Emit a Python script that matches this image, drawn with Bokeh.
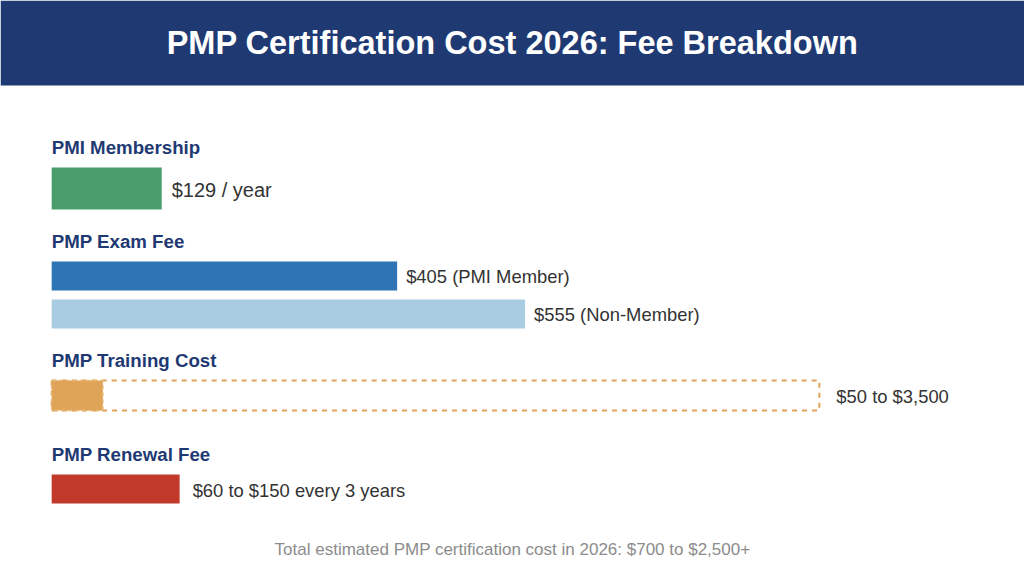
from bokeh.plotting import figure
from bokeh.models import Range1d
from bokeh.core.properties import value
from bokeh.embed import file_html
from bokeh.resources import INLINE

# ---- data ----
title = "PMP Certification Cost 2026: Fee Breakdown"
footer = "Total estimated PMP certification cost in 2026: $700 to $2,500+"

membership_fee = [129]
membership_label = ["$129 / year"]

exam_fees = [405, 555]
exam_labels = ["$405 (PMI Member)", "$555 (Non-Member)"]

training_low = 50
training_high = 3500
training_label = "$50 to $3,500"

renewal_low = 60
renewal_high = 150
renewal_label = "$60 to $150 every 3 years"

section_titles = ["PMI Membership", "PMP Exam Fee", "PMP Training Cost", "PMP Renewal Fee"]

# ---- display settings ----
X0, X1 = -60, 1140.5          # dollar view (0 at left bar edge)
TRAIN_CAP = 900                # dashed box drawn clipped to view
MIN_VIS = 60                   # minimum visible width of training fill

NAVY = "#1f3a73"
FONT = value("Liberation Sans")

p = figure(width=1024, height=576, x_range=Range1d(X0, X1), y_range=Range1d(576, 0),
           output_backend="svg", toolbar_location=None, min_border=0,
           background_fill_color="white", border_fill_color="white")
p.outline_line_color = None
p.axis.visible = False
p.grid.visible = False

# header band
p.quad(left=[X0], right=[X1], top=[0], bottom=[85], fill_color=NAVY, line_color=None)
p.text(x=[(X0 + X1) / 2], y=[42], text=[title], text_font=FONT, text_font_style="bold",
       text_font_size="32.5px", text_color="white", text_align="center", text_baseline="middle")

# section titles
sec_y = [147, 241, 360, 454]
p.text(x=[0] * 4, y=sec_y, text=section_titles, text_font=FONT, text_font_style="bold",
       text_font_size="18.7px", text_color=NAVY, text_align="left", text_baseline="middle")

val_style = dict(text_font=FONT, text_color="#333333",
                 text_align="left", text_baseline="middle")

# membership
p.hbar(y=[188], left=0, right=membership_fee, height=42, fill_color="#4a9e6e", line_color=None)
p.text(x=membership_fee, y=[189], text=membership_label, x_offset=10,
       text_font_size="20px", **val_style)

# exam fees
exam_y = [275.5, 313.5]
p.hbar(y=exam_y, left=0, right=exam_fees, height=29, fill_color=["#2e75b6", "#a9cce3"], line_color=None)
p.text(x=exam_fees, y=exam_y, text=exam_labels, x_offset=9, text_font_size="18.4px", **val_style)

# training (range; dashed outline clipped)
p.quad(left=[0], right=[min(training_high, TRAIN_CAP)], top=[380], bottom=[410],
       fill_color=None, line_color="#e0a458", line_width=2, line_dash="5 5")
p.quad(left=[0], right=[max(training_low, MIN_VIS)], top=[380], bottom=[410],
       fill_color="#e0a458", line_color="#e8b978", line_width=1.5, line_dash="4 3")
p.text(x=[min(training_high, TRAIN_CAP)], y=[396], text=[training_label], x_offset=17,
       text_font_size="18.4px", **val_style)

# renewal
p.hbar(y=[488.5], left=0, right=[renewal_high], height=29, fill_color="#c0392b", line_color=None)
p.text(x=[renewal_high], y=[490], text=[renewal_label], x_offset=13,
       text_font_size="18.4px", **val_style)

# footer
p.text(x=[(X0 + X1) / 2], y=[549], text=[footer], text_font=FONT, text_font_size="17px",
       text_color="#8c8c8c", text_align="center", text_baseline="middle")

open("out.html", "w").write(file_html(p, INLINE))
